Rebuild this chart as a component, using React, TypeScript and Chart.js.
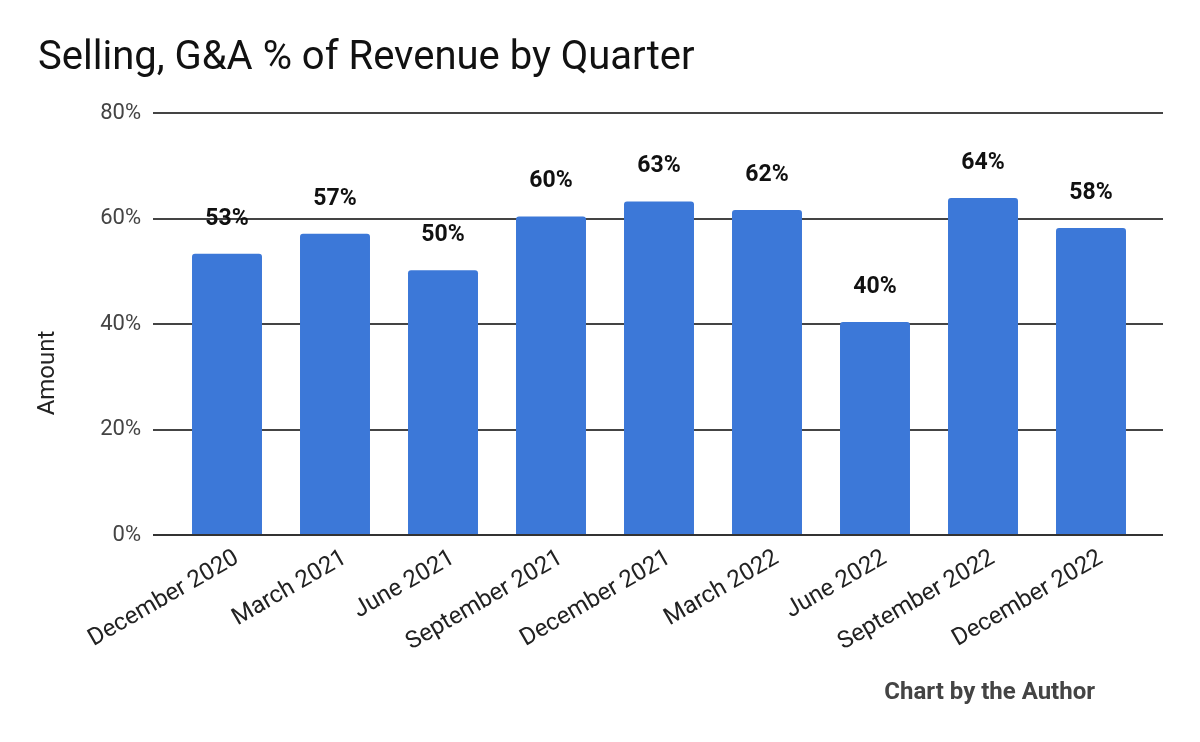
import React, { useEffect, useRef } from "react";
import { Chart, registerables } from "chart.js";

Chart.register(...registerables);

const chartTitle = "Selling, G&A % of Revenue by Quarter";
const axisTitle = "Amount";
const footerText = "Chart by the Author";
const categories = [
  "December 2020",
  "March 2021",
  "June 2021",
  "September 2021",
  "December 2021",
  "March 2022",
  "June 2022",
  "September 2022",
  "December 2022",
];
const values = [53.3, 57.1, 50.2, 60.4, 63.2, 61.6, 40.4, 63.9, 58.2];
const yMin = 0;
const yMax = 80;
const yStep = 20;

const FONT = "Roboto";

const extrasPlugin = {
  id: "extras",
  afterDatasetsDraw(chart: any) {
    const ctx = chart.ctx;
    const meta = chart.getDatasetMeta(0);
    ctx.save();
    ctx.font = `bold 23px ${FONT}`;
    ctx.fillStyle = "#111";
    ctx.textAlign = "center";
    ctx.textBaseline = "middle";
    meta.data.forEach((bar: any, i: number) => {
      ctx.fillText(Math.round(values[i]) + "%", bar.x, bar.y - 35);
    });
    ctx.restore();
  },
  afterDraw(chart: any) {
    const ctx = chart.ctx;
    const area = chart.chartArea;
    ctx.save();
    ctx.font = `24px ${FONT}`;
    ctx.fillStyle = "#222";
    ctx.textAlign = "center";
    ctx.textBaseline = "middle";
    ctx.translate(48, (area.top + area.bottom) / 2 + 49);
    ctx.rotate(-Math.PI / 2);
    ctx.fillText(axisTitle, 0, 0);
    ctx.restore();
    ctx.save();
    ctx.font = `bold 24px ${FONT}`;
    ctx.fillStyle = "#444";
    ctx.textAlign = "right";
    ctx.textBaseline = "middle";
    ctx.fillText(footerText, 1095, 693);
    ctx.restore();
  },
};

export default function App() {
  const canvasRef = useRef<HTMLCanvasElement | null>(null);

  useEffect(() => {
    const canvas = canvasRef.current;
    if (!canvas) return;
    const gridColor = (c: any) => (c.tick && c.tick.value === 0 ? "#333" : "#444");
    const gridWidth = (c: any) => 2;
    const chart = new Chart(canvas, {
      type: "bar",
      data: {
        labels: categories,
        datasets: [
          {
            data: values,
            backgroundColor: "#3c78d8",
            borderRadius: 3,
            barPercentage: 0.648,
            categoryPercentage: 1,
          },
        ],
      },
      options: {
        responsive: false,
        animation: false,
        layout: { padding: { left: 38, right: 0, top: 0, bottom: 0 } },
        plugins: {
          legend: { display: false },
          tooltip: { enabled: false },
          title: {
            display: true,
            text: chartTitle,
            align: "start",
            color: "#111",
            font: { family: FONT, size: 40, weight: "normal", lineHeight: 1.2 },
            padding: { top: 35, bottom: 30 },
          },
        },
        scales: {
          x: {
            grid: { display: false },
            border: { display: false },
            ticks: {
              color: "#222",
              font: { family: FONT, size: 24 },
              maxRotation: 30,
              minRotation: 30,
              autoSkip: false,
              padding: 1,
              labelOffset: 10,
            },
            afterFit(scale: any) {
              scale.height = 207;
            },
          },
          y: {
            position: "left",
            min: yMin,
            max: yMax,
            border: { display: false },
            grid: {
              color: gridColor,
              lineWidth: gridWidth,
              drawTicks: true,
              tickLength: 20,
            },
            ticks: {
              stepSize: yStep,
              color: "#444",
              font: { family: FONT, size: 22 },
              padding: 12,
              callback: (v: any) => v + "%",
            },
            afterFit(scale: any) {
              scale.width = 135;
            },
          },
          yr: {
            position: "right",
            min: yMin,
            max: yMax,
            border: { display: false },
            grid: {
              color: gridColor,
              lineWidth: gridWidth,
              drawOnChartArea: false,
              drawTicks: true,
              tickLength: 18,
            },
            ticks: { stepSize: yStep, display: false },
            afterFit(scale: any) {
              scale.width = 55;
            },
          },
        },
      },
      plugins: [extrasPlugin],
    } as any);
    return () => chart.destroy();
  }, []);

  return (
    <div style={{ position: "absolute", left: 0, top: 0, width: 1200, height: 742, background: "#fff" }}>
      <canvas ref={canvasRef} width={1200} height={742} />
    </div>
  );
}
